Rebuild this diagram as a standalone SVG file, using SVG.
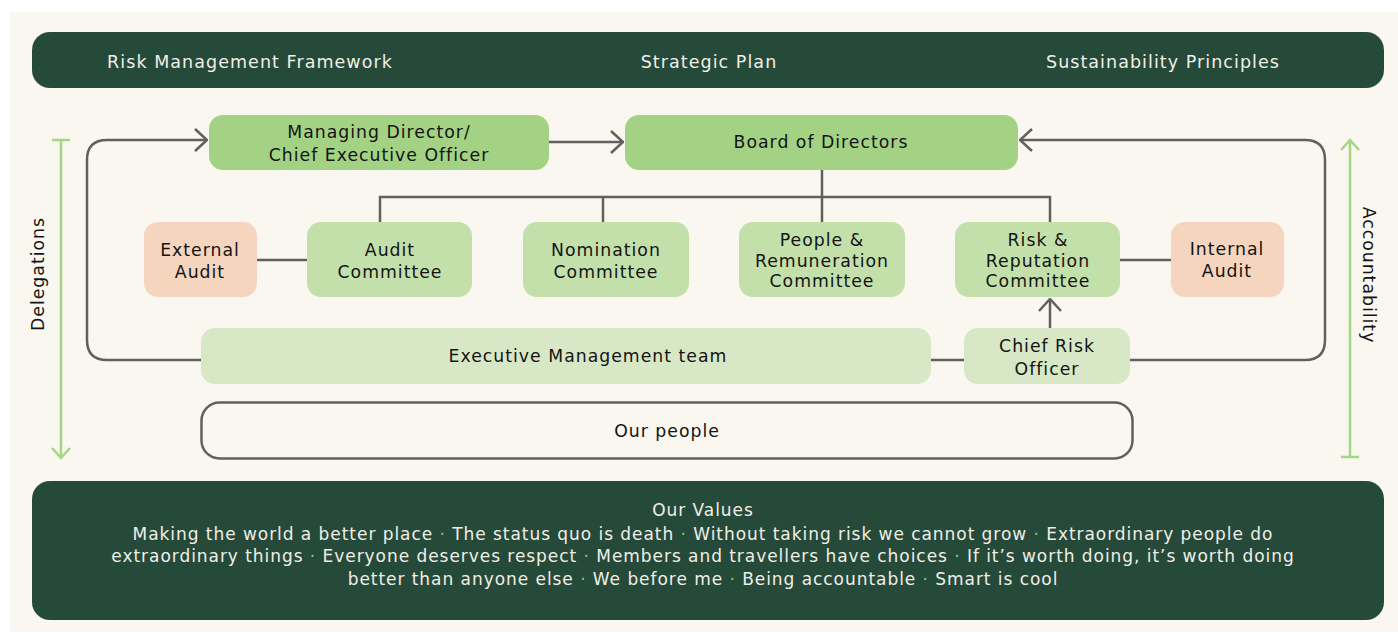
<svg xmlns="http://www.w3.org/2000/svg" width="1398" height="637" viewBox="0 0 1398 637">
<style>
text{font-family:"DejaVu Sans","Noto Sans","Liberation Sans",sans-serif;}
.t{font-size:17.3px;fill:#141414;text-anchor:middle;letter-spacing:1px;}
.bar{font-size:17.5px;fill:#f1eee6;text-anchor:middle;letter-spacing:1.05px;}
.val{font-size:17px;fill:#f1eee6;text-anchor:middle;letter-spacing:0.95px;}
.dot{fill:#8cc870;}
.conn{fill:none;stroke:#606060;stroke-width:2.5;}
.g{fill:none;stroke:#a6d683;stroke-width:2.5;}
.n1{fill:#a3d284;}
.n2{fill:#c3e0aa;}
.n3{fill:#d8e8c6;}
.pe{fill:#f6d5bf;}
.dk{fill:#264a3a;}
</style>
<defs>
<marker id="chev" viewBox="0 0 14 24" refX="13" refY="12" markerWidth="14" markerHeight="24" markerUnits="userSpaceOnUse" orient="auto">
<path d="M1,1 L13,12 L1,23" fill="none" stroke="#606060" stroke-width="2.5"/>
</marker>
</defs>
<rect x="0" y="0" width="1398" height="637" fill="#ffffff"/>
<rect x="10" y="12" width="1388" height="620" fill="#f9f7f0"/>

<g id="top-bar">
<rect x="32" y="32" width="1352" height="56" rx="18" class="dk"/>
<text class="bar" x="250" y="68">Risk Management Framework</text>
<text class="bar" x="709" y="68">Strategic Plan</text>
<text class="bar" x="1163" y="68">Sustainability Principles</text>
</g>

<g id="connectors">
<path class="conn" d="M549,142 H623" marker-end="url(#chev)"/>
<path class="conn" d="M201,360 H107 Q87,360 87,340 V160 Q87,140 107,140 H207" marker-end="url(#chev)"/>
<path class="conn" d="M1130,360 H1305 Q1325,360 1325,340 V160 Q1325,140 1305,140 H1020" marker-end="url(#chev)"/>
<path class="conn" d="M822,170 V222"/>
<path class="conn" d="M380,222 V197 H1050 V222"/>
<path class="conn" d="M603,197 V222"/>
<path class="conn" d="M257,260 H307"/>
<path class="conn" d="M1120,260 H1171"/>
<path class="conn" d="M931,360 H964"/>
<path class="conn" d="M1050,328 V299" marker-end="url(#chev)"/>
</g>

<g id="delegations">
<path class="g" d="M52,140 H70 M61,140 V458 M52,448 L61,458 L70,448"/>
<text class="t" transform="translate(44,274) rotate(-90)" x="0" y="0">Delegations</text>
</g>
<g id="accountability">
<path class="g" d="M1341,457 H1359 M1350,457 V140 M1341,150 L1350,140 L1359,150"/>
<text class="t" transform="translate(1363,275) rotate(90)" x="0" y="0">Accountability</text>
</g>

<g id="md-ceo">
<rect x="209" y="115" width="340" height="55" rx="14" class="n1"/>
<text class="t" x="379" y="138">Managing Director/<tspan x="379" dy="23">Chief Executive Officer</tspan></text>
</g>
<g id="board">
<rect x="625" y="115" width="393" height="55" rx="14" class="n1"/>
<text class="t" x="821" y="148">Board of Directors</text>
</g>

<g id="external-audit">
<rect x="144" y="222" width="113" height="75" rx="14" class="pe"/>
<text class="t" x="200" y="256">External<tspan x="200" dy="21.5">Audit</tspan></text>
</g>
<g id="audit-committee">
<rect x="307" y="222" width="165" height="75" rx="14" class="n2"/>
<text class="t" x="390" y="256">Audit<tspan x="390" dy="21.5">Committee</tspan></text>
</g>
<g id="nomination-committee">
<rect x="523" y="222" width="166" height="75" rx="14" class="n2"/>
<text class="t" x="606" y="256">Nomination<tspan x="606" dy="21.5">Committee</tspan></text>
</g>
<g id="people-remuneration-committee">
<rect x="739" y="222" width="166" height="75" rx="14" class="n2"/>
<text class="t" x="822" y="246">People &amp;<tspan x="822" dy="20.5">Remuneration</tspan><tspan x="822" dy="20.5">Committee</tspan></text>
</g>
<g id="risk-reputation-committee">
<rect x="955" y="222" width="165" height="75" rx="14" class="n2"/>
<text class="t" x="1038" y="246">Risk &amp;<tspan x="1038" dy="20.5">Reputation</tspan><tspan x="1038" dy="20.5">Committee</tspan></text>
</g>
<g id="internal-audit">
<rect x="1171" y="222" width="113" height="75" rx="14" class="pe"/>
<text class="t" x="1227" y="255">Internal<tspan x="1227" dy="22">Audit</tspan></text>
</g>

<g id="executive-management-team">
<rect x="201" y="328" width="730" height="56" rx="14" class="n3"/>
<text class="t" x="588" y="362">Executive Management team</text>
</g>
<g id="chief-risk-officer">
<rect x="964" y="328" width="166" height="56" rx="14" class="n3"/>
<text class="t" x="1047" y="352">Chief Risk<tspan x="1047" dy="23">Officer</tspan></text>
</g>
<g id="our-people">
<rect x="201.5" y="402.5" width="931" height="56" rx="18" fill="none" stroke="#606060" stroke-width="2.5"/>
<text class="t" x="667" y="437">Our people</text>
</g>

<g id="our-values">
<rect x="32" y="481" width="1352" height="139" rx="18" class="dk"/>
<text class="val" x="703" y="516">Our Values<tspan x="703" dy="24">Making the world a better place <tspan class="dot">·</tspan> The status quo is death <tspan class="dot">·</tspan> Without taking risk we cannot grow <tspan class="dot">·</tspan> Extraordinary people do</tspan><tspan x="703" dy="22">extraordinary things <tspan class="dot">·</tspan> Everyone deserves respect <tspan class="dot">·</tspan> Members and travellers have choices <tspan class="dot">·</tspan> If it’s worth doing, it’s worth doing</tspan><tspan x="703" dy="23">better than anyone else <tspan class="dot">·</tspan> We before me <tspan class="dot">·</tspan> Being accountable <tspan class="dot">·</tspan> Smart is cool</tspan></text>
</g>
</svg>
